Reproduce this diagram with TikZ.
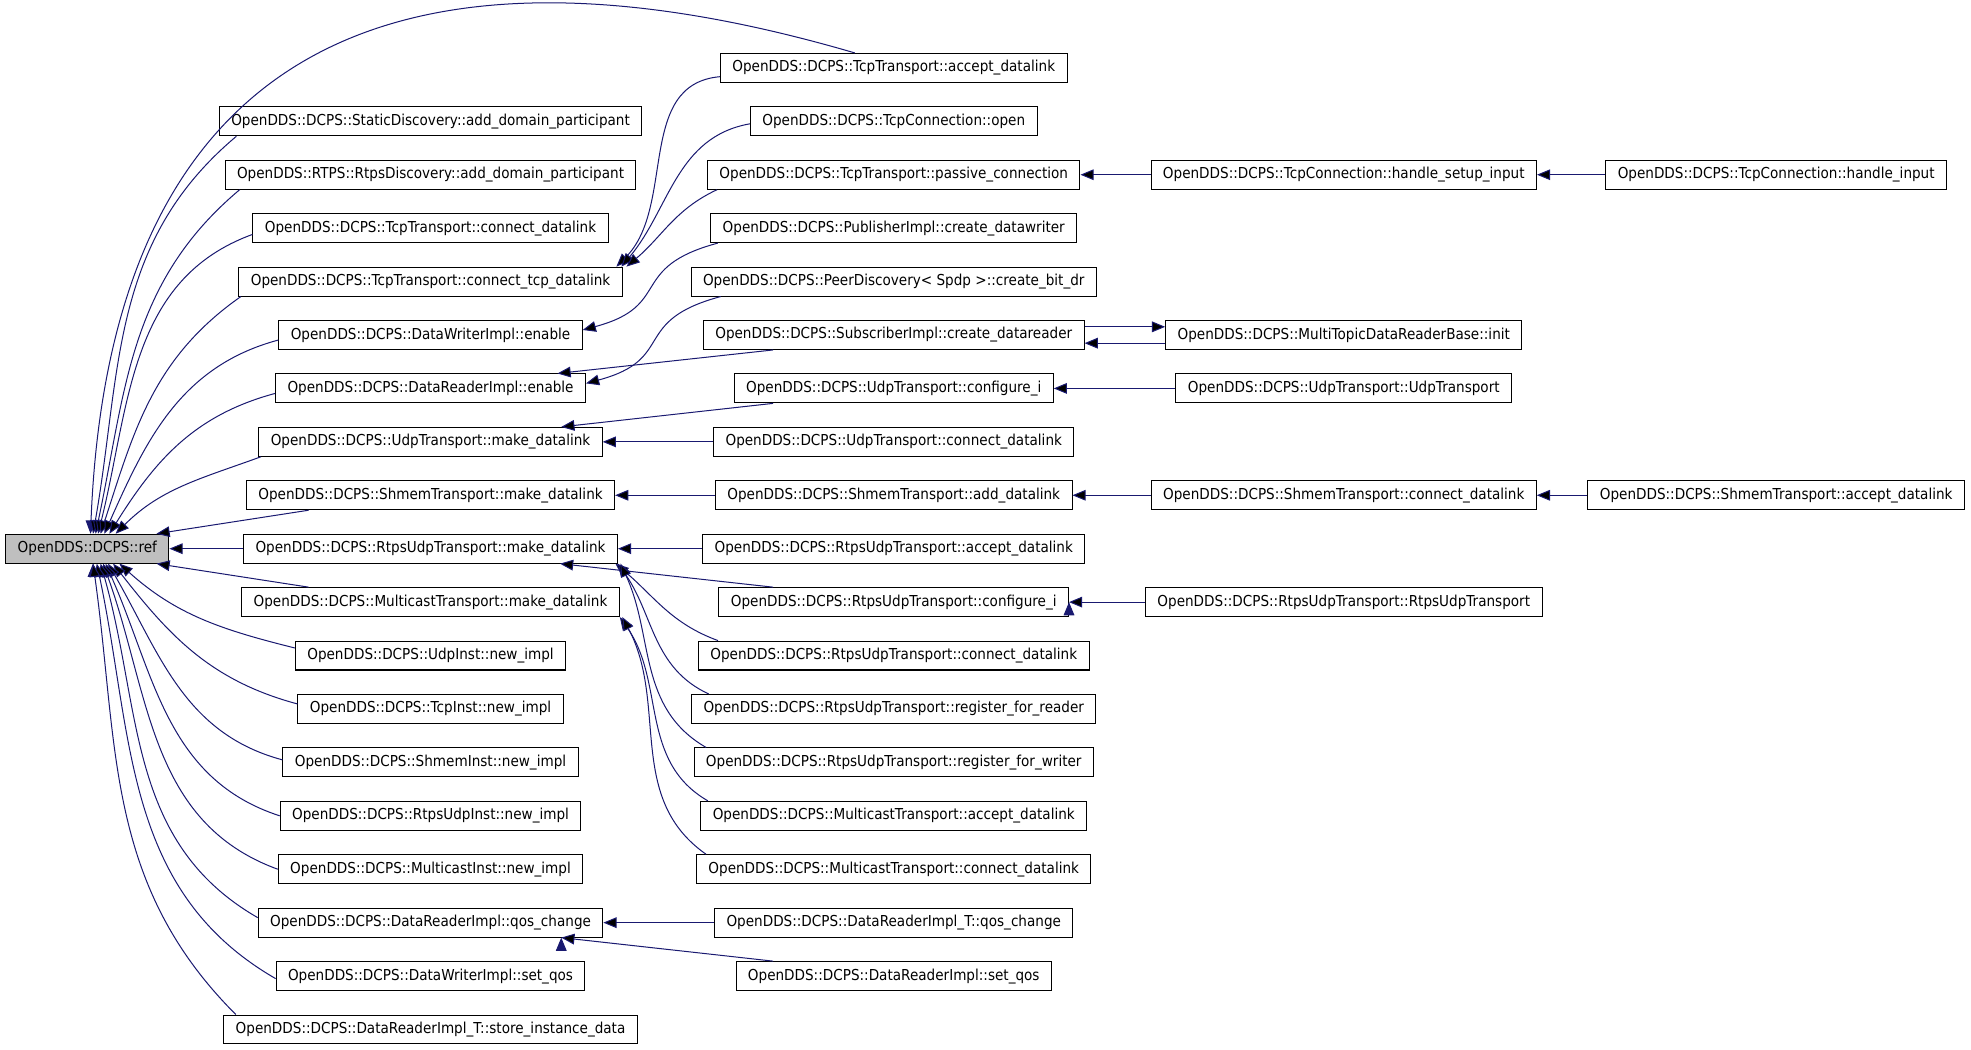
\documentclass[tikz,border=0pt]{standalone}
\usepackage{fontspec}
\setmainfont{DejaVu Sans}[FakeStretch=0.9]
\usepackage{tikz}
\usetikzlibrary{arrows.meta}
\usetikzlibrary{positioning}
\definecolor{edgeblue}{RGB}{25,25,112}
\definecolor{rootgray}{RGB}{191,191,191}
\tikzstyle{caller_style}=[
	x=1pt,y=1pt,node distance=42.5pt,
	>={Triangle[length=10.5pt,width=8.5pt]},
	func/.style={rectangle,fill=white,draw=black,line width=0.8pt,minimum height=23pt,inner xsep=9.5pt,inner ysep=0pt,font=\fontsize{12}{14}\selectfont},
	root/.style={func,fill=rootgray},
	call/.style={<-,draw=edgeblue,line width=0.8pt}
]

\begin{document}
\begin{tikzpicture}[caller_style]
			\useasboundingbox (0,0) rectangle (1568,-835);
			
			\node[root] (ref) at (69.5,-436.5) {OpenDDS::DCPS::ref};
			
			%callers of ref
			\node[func] (sdadp) at (342.5,-96.5) {OpenDDS::DCPS::StaticDiscovery::add\_domain\_participant};
			\node[func] (rdadp) [below of=sdadp] {OpenDDS::RTPS::RtpsDiscovery::add\_domain\_participant};
			\node[func] (tcd)   [below of=rdadp] {OpenDDS::DCPS::TcpTransport::connect\_datalink};
			\node[func] (tctd)  [below of=tcd]   {OpenDDS::DCPS::TcpTransport::connect\_tcp\_datalink};
			\node[func] (dwe)   [below of=tctd]  {OpenDDS::DCPS::DataWriterImpl::enable};
			\node[func] (dre)   [below of=dwe]   {OpenDDS::DCPS::DataReaderImpl::enable};
			\node[func] (umd)   [below of=dre]   {OpenDDS::DCPS::UdpTransport::make\_datalink};
			\node[func] (smd)   [below of=umd]   {OpenDDS::DCPS::ShmemTransport::make\_datalink};
			\node[func] (rumd)  [below of=smd]   {OpenDDS::DCPS::RtpsUdpTransport::make\_datalink};
			\node[func] (mmd)   [below of=rumd]  {OpenDDS::DCPS::MulticastTransport::make\_datalink};
			\node[func] (uin)   [below of=mmd]   {OpenDDS::DCPS::UdpInst::new\_impl};
			\node[func] (tin)   [below of=uin]   {OpenDDS::DCPS::TcpInst::new\_impl};
			\node[func] (sin)   [below of=tin]   {OpenDDS::DCPS::ShmemInst::new\_impl};
			\node[func] (ruin)  [below of=sin]   {OpenDDS::DCPS::RtpsUdpInst::new\_impl};
			\node[func] (min)   [below of=ruin]  {OpenDDS::DCPS::MulticastInst::new\_impl};
			\node[func] (drqc)  [below of=min]   {OpenDDS::DCPS::DataReaderImpl::qos\_change};
			\node[func] (dwsq)  [below of=drqc]  {OpenDDS::DCPS::DataWriterImpl::set\_qos};
			\node[func] (drtsid)[below of=dwsq]  {OpenDDS::DCPS::DataReaderImpl\_T::store\_instance\_data};
			
			%second level
			\node[func] (tad)   at (711,-54)     {OpenDDS::DCPS::TcpTransport::accept\_datalink};
			\node[func] (tco)   [below of=tad]   {OpenDDS::DCPS::TcpConnection::open};
			\node[func] (tpc)   [below of=tco]   {OpenDDS::DCPS::TcpTransport::passive\_connection};
			\node[func] (pcdw)  [below of=tpc]   {OpenDDS::DCPS::PublisherImpl::create\_datawriter};
			\node[func] (pdcb)  [below of=pcdw]  {OpenDDS::DCPS::PeerDiscovery< Spdp >::create\_bit\_dr};
			\node[func] (scdr)  [below of=pdcb]  {OpenDDS::DCPS::SubscriberImpl::create\_datareader};
			\node[func] (uci)   [below of=scdr]  {OpenDDS::DCPS::UdpTransport::configure\_i};
			\node[func] (ucd)   [below of=uci]   {OpenDDS::DCPS::UdpTransport::connect\_datalink};
			\node[func] (sad)   [below of=ucd]   {OpenDDS::DCPS::ShmemTransport::add\_datalink};
			\node[func] (ruad)  [below of=sad]   {OpenDDS::DCPS::RtpsUdpTransport::accept\_datalink};
			\node[func] (ruci)  [below of=ruad]  {OpenDDS::DCPS::RtpsUdpTransport::configure\_i};
			\node[func] (rucd)  [below of=ruci]  {OpenDDS::DCPS::RtpsUdpTransport::connect\_datalink};
			\node[func] (rurr)  [below of=rucd]  {OpenDDS::DCPS::RtpsUdpTransport::register\_for\_reader};
			\node[func] (rurw)  [below of=rurr]  {OpenDDS::DCPS::RtpsUdpTransport::register\_for\_writer};
			\node[func] (mad)   [below of=rurw]  {OpenDDS::DCPS::MulticastTransport::accept\_datalink};
			\node[func] (mcd)   [below of=mad]   {OpenDDS::DCPS::MulticastTransport::connect\_datalink};
			\node[func] (drtqc) [below of=mcd]   {OpenDDS::DCPS::DataReaderImpl\_T::qos\_change};
			\node[func] (drsq)  [below of=drtqc] {OpenDDS::DCPS::DataReaderImpl::set\_qos};
			
			%third level
			\node[func] (tchsi) [right of=tpc,node distance=358pt]  {OpenDDS::DCPS::TcpConnection::handle\_setup\_input};
			\node[func] (mtinit)[right of=scdr,node distance=358pt] {OpenDDS::DCPS::MultiTopicDataReaderBase::init};
			\node[func] (uut)   [right of=uci,node distance=358pt]  {OpenDDS::DCPS::UdpTransport::UdpTransport};
			\node[func] (scd)   [right of=sad,node distance=358pt]  {OpenDDS::DCPS::ShmemTransport::connect\_datalink};
			\node[func] (ruut)  [right of=ruci,node distance=358pt] {OpenDDS::DCPS::RtpsUdpTransport::RtpsUdpTransport};
			
			%fourth level
			\node[func] (tchi)  [right of=tchsi,node distance=344pt] {OpenDDS::DCPS::TcpConnection::handle\_input};
			\node[func] (sacd)  [right of=scd,node distance=344pt]   {OpenDDS::DCPS::ShmemTransport::accept\_datalink};
			
			%into ref
			\draw[call] ([xshift=2.5pt]ref.north) .. controls +(18,455) and +(-280,82) .. ([xshift=-31pt]tad.north);
			\path[call] ([xshift=4.5pt]ref.north) edge [out=80,in=220] ([xshift=14pt]sdadp.south west)
			([xshift=6.5pt]ref.north) edge [out=78,in=220] ([xshift=12pt]rdadp.south west)
			([xshift=8.5pt]ref.north) edge [out=76,in=200] ([yshift=-5pt]tcd.west)
			([xshift=10.5pt]ref.north) edge [out=72,in=215] ([xshift=2pt]tctd.south west)
			([xshift=13.5pt]ref.north) edge [out=66,in=195] ([yshift=-4pt]dwe.west)
			([xshift=17.5pt]ref.north) edge [out=58,in=195] ([yshift=-4pt]dre.west)
			([xshift=22.5pt]ref.north) edge [out=45,in=200] ([xshift=2pt]umd.south west)
			([xshift=55pt]ref.north) edge [] ([xshift=-97pt]smd.south)
			(ref.east) edge [] (rumd.west)
			([xshift=55pt]ref.south) edge [] ([xshift=-97pt]mmd.north)
			([xshift=25.5pt]ref.south) edge [out=-42,in=166] ([yshift=6pt]uin.west)
			([xshift=20.5pt]ref.south) edge [out=-52,in=165] ([yshift=4pt]tin.west)
			([xshift=16.5pt]ref.south) edge [out=-60,in=165] ([yshift=2pt]sin.west)
			([xshift=14.5pt]ref.south) edge [out=-66,in=162] (ruin.west)
			([xshift=12.5pt]ref.south) edge [out=-70,in=160] (min.west)
			([xshift=10.5pt]ref.south) edge [out=-74,in=150] ([yshift=4pt]drqc.west)
			([xshift=7.5pt]ref.south) edge [out=-78,in=150] ([yshift=-2pt]dwsq.west)
			([xshift=4.5pt]ref.south) edge [out=-82,in=135] ([xshift=10pt]drtsid.north west);
			
			%into second column
			\path[call] ([xshift=-5pt]tctd.north east) edge [out=45,in=185] ([yshift=-7pt]tad.west)
			([xshift=-1pt]tctd.north east) edge [out=50,in=190] ([yshift=-2pt]tco.west)
			([xshift=3pt]tctd.north east) edge [out=40,in=205] ([xshift=8pt]tpc.south west)
			([yshift=4pt]dwe.east) edge [out=15,in=195,looseness=1.5] ([xshift=6pt]pcdw.south west)
			([yshift=4pt]dre.east) edge [out=15,in=195,looseness=1.5] ([xshift=24pt]pdcb.south west)
			([xshift=101pt]dre.north) edge [] ([xshift=-96pt]scdr.south)
			([xshift=104pt]umd.north) edge [] ([xshift=-96pt]uci.south)
			(umd.east) edge [] (ucd.west)
			(smd.east) edge [] (sad.west)
			(rumd.east) edge [] (ruad.west)
			([xshift=103pt]rumd.south) edge [] ([xshift=-96pt]ruci.north)
			([xshift=-2pt]rumd.south east) edge [out=-40,in=160] ([xshift=16pt]rucd.north west)
			(rumd.south east) edge [out=-55,in=155] ([xshift=14pt]rurr.north west)
			([xshift=2pt]rumd.south east) edge [out=-65,in=150] ([xshift=10pt]rurw.north west)
			(mmd.south east) edge [out=-55,in=150] ([xshift=6pt]mad.north west)
			([xshift=2pt]mmd.south east) edge [out=-62,in=145] ([xshift=8pt]mcd.north west)
			(drqc.east) edge [] (drtqc.west)
			([xshift=104pt]drqc.south) edge [] ([xshift=-96pt]drsq.north);
			
			%further right
			\path[call] (tpc.east) edge [] (tchsi.west)
			(tchsi.east) edge [] (tchi.west)
			([yshift=6.5pt]mtinit.west) edge [] ([yshift=6.5pt]scdr.east)
			([yshift=-6.5pt]scdr.east) edge [] ([yshift=-6.5pt]mtinit.west)
			(uci.east) edge [] (uut.west)
			(sad.east) edge [] (scd.west)
			(scd.east) edge [] (sacd.west)
			(ruci.east) edge [] (ruut.west);
			
\end{tikzpicture}
\end{document}
